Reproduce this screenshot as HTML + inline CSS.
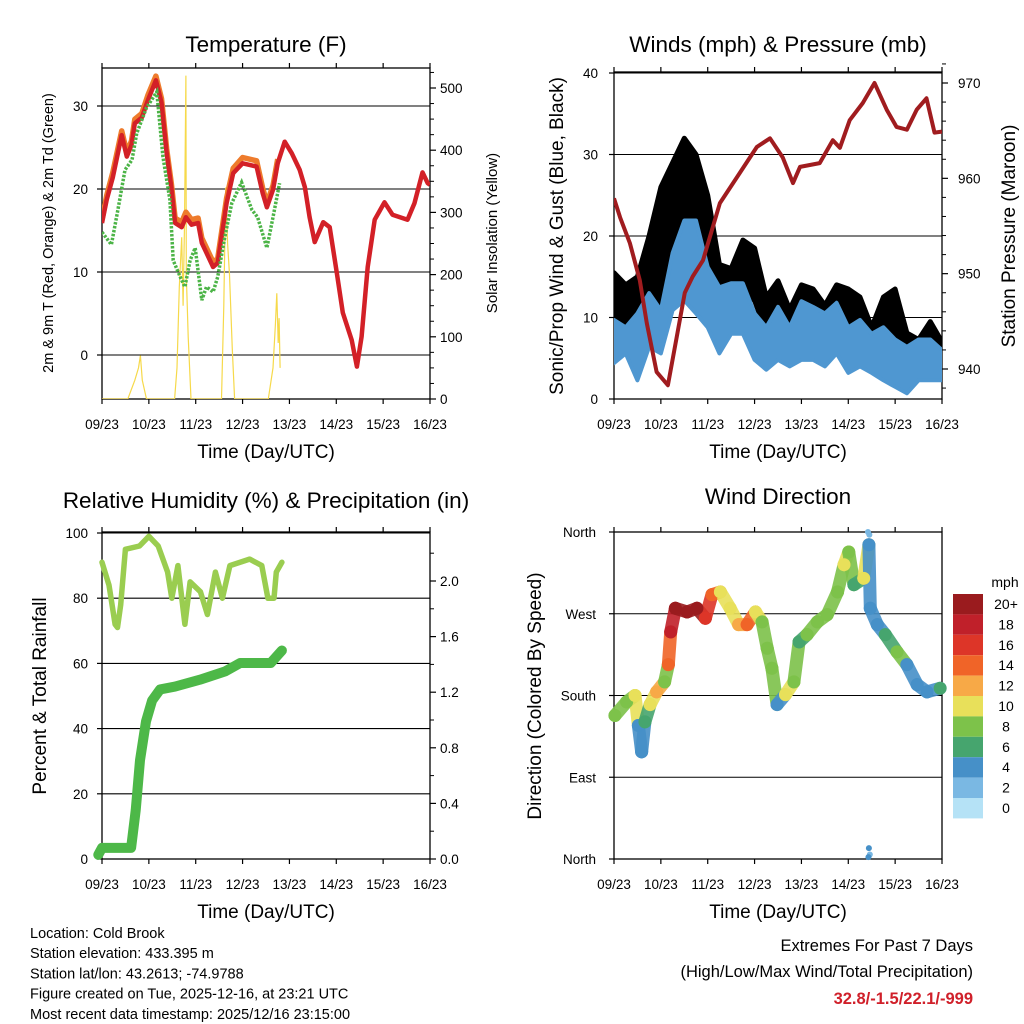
<!DOCTYPE html>
<html><head><meta charset="utf-8"><title>Cold Brook station meteogram</title>
<style>
html,body{margin:0;padding:0;background:#fff;}
svg{display:block;font-family:"Liberation Sans",Arial,sans-serif;}
</style></head>
<body>
<svg id="chart" width="1024" height="1024" viewBox="0 0 1024 1024" xmlns="http://www.w3.org/2000/svg"></svg>
<script>
// ---------- DATA ----------
const DAY_LABELS=["09/23","10/23","11/23","12/23","13/23","14/23","15/23","16/23"];
// Temperature panel
const RED_T=[0,0.1,0.23,0.42,0.53,0.63,0.7,0.85,0.98,1.15,1.27,1.38,1.48,1.56,1.7,1.79,1.91,2.05,2.13,2.37,2.47,2.66,2.8,3.0,3.3,3.43,3.52,3.65,3.75,3.9,4.05,4.22,4.33,4.43,4.54,4.72,4.86,5.01,5.14,5.33,5.44,5.54,5.67,5.82,6.03,6.2,6.52,6.67,6.84,6.95,7.0];
const RED_V=[15.9,18.7,21.4,26.5,23.9,25.3,27.9,28.6,30.7,33.1,30.4,24.3,20.2,15.9,15.4,16.6,15.7,15.9,13.5,10.6,11.1,18.3,21.9,23.1,22.7,19.5,17.8,19.9,23.1,25.7,24.3,22.3,20.2,16.6,13.6,16.0,15.4,9.9,5.1,1.8,-1.4,2.2,10.6,16.3,18.4,16.9,16.3,18.3,22.0,20.7,20.5];
const ORANGE_T=[0,0.1,0.23,0.42,0.53,0.63,0.7,0.85,0.98,1.15,1.27,1.38,1.48,1.56,1.7,1.79,1.91,2.05,2.13,2.37,2.47,2.66,2.8,3.0,3.3,3.43,3.52,3.65,3.75];
const ORANGE_V=[16.3,19.2,22.0,27.0,24.4,25.8,28.4,29.1,31.3,33.6,30.9,24.8,20.7,16.5,16.0,17.2,16.3,16.5,14.1,11.2,11.6,18.9,22.5,23.8,23.4,20.1,18.3,20.4,23.6];
const TD_T=[0,0.2,0.34,0.49,0.64,0.74,0.95,1.17,1.3,1.45,1.52,1.67,1.77,1.88,1.99,2.13,2.23,2.37,2.47,2.62,2.77,2.98,3.2,3.32,3.52,3.65,3.79];
const TD_V=[14.8,13.3,17.5,22.3,23.5,26.7,29.8,31.7,23.9,18.7,11.4,9.4,8.2,11.4,12.9,6.6,8.2,7.6,9.4,14.2,18.3,20.8,17.5,16.6,12.9,16.6,20.7];
const SOLAR_T=[0,0.55,0.7,0.78,0.82,0.86,0.95,1.55,1.6,1.65,1.7,1.73,1.76,1.79,1.8,1.84,1.9,2.55,2.6,2.64,2.68,2.72,2.78,2.83,3.55,3.65,3.7,3.73,3.76,3.78,3.8];
const SOLAR_V=[0,0,30,50,70,30,0,0,50,180,260,150,280,520,200,100,0,0,150,340,250,200,80,0,0,50,120,170,90,130,50];
// Winds panel
const PRES_T=[0,0.13,0.34,0.55,0.7,0.91,1.15,1.34,1.51,1.68,1.9,2.26,2.69,3.05,3.33,3.6,3.82,3.97,4.39,4.67,4.82,5.03,5.31,5.56,5.82,6.03,6.25,6.46,6.67,6.84,7.0];
const PRES_V=[957.9,955.9,953.2,949.3,944.8,939.7,938.3,943.4,948.0,949.7,951.4,957.4,960.6,963.3,964.2,962.2,959.5,961.2,961.6,964.0,963.2,966.1,967.9,970.0,967.2,965.4,965.1,967.2,968.4,964.8,964.9];
const WIND_T=[0,0.25,0.5,0.75,1,1.25,1.5,1.75,2,2.25,2.5,2.75,3,3.25,3.5,3.75,4,4.25,4.5,4.75,5,5.25,5.5,5.75,6,6.25,6.5,6.75,7];
const GUST_HI=[15.5,14,15,20,26,29,32,30,25,16.5,16,19.5,18.5,12.5,14.5,11,14,13.5,11.5,14,13.5,12.5,8.8,12.5,13.5,8.1,7.3,9.5,7];
const GUST_LO=[6,8.8,5.8,10.5,9.7,17.9,17,17,15.4,10.5,10.5,13,12.1,8.1,8.8,6,6.4,6.9,6.4,7.6,6.4,7,5.6,6.4,5.6,4.8,4.8,4.8,4.8];
const WIND_HI=[9.7,8.8,10.5,13,10.9,17.9,21.9,21.9,16.2,13.7,14.2,14.2,10.5,8.8,11.3,8.8,12,11.3,10.5,11.8,8.8,9.7,8,8.8,7.3,6.4,7.3,7.3,6];
const WIND_LO=[4.4,5.6,2.3,6.4,5.6,10.9,12.1,10.5,8.8,5.6,8,8,4.8,3.6,4.8,4,4.8,4.8,4,5.6,3.2,4,3.2,2.3,1.5,0.7,2.3,2.3,2.3];
// RH / precip panel
const RH_T=[0,0.15,0.28,0.33,0.4,0.5,0.8,1.0,1.2,1.4,1.49,1.62,1.77,1.88,2.1,2.25,2.42,2.57,2.73,3.15,3.41,3.54,3.67,3.72,3.84];
const RH_V=[91,84,72,71,78,95,96,99,96,88,80,90,72,85,82,75,88,80,90,92,90,80,80,88,91];
const PCP_T=[-0.08,0,0.62,0.72,0.81,0.94,1.07,1.24,1.56,2.09,2.63,2.95,3.6,3.84];
const PCP_V=[0.03,0.08,0.08,0.35,0.71,0.99,1.14,1.22,1.24,1.29,1.35,1.41,1.41,1.5];
// Wind direction panel
const DIR_T=[0.02,0.27,0.45,0.52,0.59,0.66,0.77,0.91,1.08,1.16,1.21,1.31,1.56,1.77,1.95,2.09,2.27,2.48,2.66,2.84,3.02,3.16,3.27,3.37,3.48,3.66,3.84,3.95,4.12,4.34,4.55,4.77,4.91,5.01,5.12,5.33,5.44,5.47,5.62,5.79,6.04,6.25,6.47,6.68,6.96];
const DIR_V=[158,173,180,147,118,151,170,184,195,214,250,276,272,276,265,291,294,276,258,258,272,261,232,210,170,181,195,239,247,261,269,294,324,338,302,309,346,276,258,247,228,214,192,184,188];
const DIR_SPD=[7,7,9,4,3,5,10,12,7,13,17,20,21,19,16,14,10,9,12,13,10,7,8,7,4,10,7,5,7,8,8,7,10,7,6,10,4,4,4,6,8,4,3,4,6];
const OUT_T=[5.42,5.45,5.44,5.46,5.43];
const OUT_V=[360,357,12,5,2];
const OUT_SPD=[2,2,4,2,3];
const CB_LABELS=["20+","18","16","14","12","10","8","6","4","2","0"];
const CB_COLORS=["#9a1b1e","#c0202a","#dd3528","#f06428","#f7a947","#e8e05a","#7dc24a","#46a56e","#4690c8","#7ab8e3","#b5e2f6"];

// ---------- HELPERS ----------
const NS="http://www.w3.org/2000/svg";
const svg=document.getElementById('chart');
function mk(tag,attrs,parent){const e=document.createElementNS(NS,tag);for(const k in attrs)e.setAttribute(k,attrs[k]);(parent||svg).appendChild(e);return e;}
function txt(s,x,y,size,anchor,parent,extra){const e=mk('text',Object.assign({x:x,y:y,'font-size':size,'text-anchor':anchor||'middle',fill:'#000'},extra||{}),parent);e.textContent=s;return e;}
function makeX(x0){return t=>x0+t*46.857;}
function lin(v0,y0,v1,y1){return v=>y0+(v-v0)*(y1-y0)/(v1-v0);}
function pathD(T,V,fx,fy){return T.map((t,i)=>(i?'L':'M')+fx(t).toFixed(1)+','+fy(V[i]).toFixed(1)).join(' ');}
function spdColor(s){let i=Math.min(10,Math.max(0,Math.round(s/2)));return CB_COLORS[10-i];}

function frame(x0,y0,x1,y1,name){
  const g=mk('g',{});
  
  
  mk('rect',{x:x0,y:y0,width:x1-x0,height:y1-y0,fill:'none',stroke:'#000','stroke-width':1.3},g);
  const fx=makeX(x0);
  for(let i=0;i<DAY_LABELS.length;i++){
    const x=fx(i);
    mk('line',{x1:x,y1:y0,x2:x,y2:y0-5,stroke:'#000','stroke-width':1.2},g);
    mk('line',{x1:x,y1:y1,x2:x,y2:y1+5,stroke:'#000','stroke-width':1.2},g);
    const l=txt(DAY_LABELS[i],x,y1+30,13.5,'middle',g);
    
    
  }
  const xt=txt('Time (Day/UTC)',(x0+x1)/2,y1+59,19,'middle',g);
  
  
  return g;
}
function leftTicks(g,vals,labels,fy,x0,x1,grid,labelX){
  vals.forEach((v,i)=>{const y=fy(v);
    if(grid) mk('line',{x1:x0,y1:y,x2:x1,y2:y,stroke:'#000','stroke-width':1.1},g);
    mk('line',{x1:x0-5,y1:y,x2:x0,y2:y,stroke:'#000','stroke-width':1.2},g);
    const l=txt(labels[i],labelX,y+5,13.5,'end',g);
    
    
  });
}
function rightTicks(g,vals,labels,fy,x1,labelX,minor){
  vals.forEach((v,i)=>{const y=fy(v);
    mk('line',{x1:x1,y1:y,x2:x1+6,y2:y,stroke:'#000','stroke-width':1.2},g);
    const l=txt(labels[i],labelX,y+5,13.5,'start',g);
    
    
  });
  (minor||[]).forEach(v=>{const y=fy(v);mk('line',{x1:x1,y1:y,x2:x1+4,y2:y,stroke:'#000','stroke-width':1},g);});
}
function rotTitle(s,x,y,size,name){const e=txt(s,x,y,size,'middle',svg,{transform:`rotate(-90 ${x} ${y})`});
  
  }
function title(s,x,y,name){const e=txt(s,x,y,22.5,'middle');
  
  }

// ---------- PANEL 1: TEMPERATURE ----------
(function(){
  const x0=102,x1=430,y0=68,y1=399;const fx=makeX(x0);
  const fy=lin(0,355,30,106);const fs=lin(0,399,500,88);
  title('Temperature (F)',266,52,'temperature-title');
  const g=frame(x0,y0,x1,y1,'temperature');
  leftTicks(g,[0,10,20,30],['0','10','20','30'],fy,x0,x1,true,88);
  const minor=[];for(let v=25;v<=525;v+=25)if(v%100)minor.push(v);
  rightTicks(g,[0,100,200,300,400,500],['0','100','200','300','400','500'],fs,x1,440,minor);
  rotTitle('2m & 9m T (Red, Orange) & 2m Td (Green)',53,233,14.5,'temperature-y-axis-title');
  rotTitle('Solar Insolation (Yellow)',497,233,15,'solar-y-axis-title');
  const clip=mk('clipPath',{id:'c1'});mk('rect',{x:x0,y:y0,width:x1-x0,height:y1-y0},clip);
  const pg=mk('g',{'clip-path':'url(#c1)'});
  const s=mk('path',{d:pathD(SOLAR_T,SOLAR_V,fx,fs),fill:'none',stroke:'#f6d94a','stroke-width':1.2},pg);
  
  
  const o=mk('path',{d:pathD(ORANGE_T,ORANGE_V,fx,fy),fill:'none',stroke:'#ee7b2c','stroke-width':5.5,'stroke-linejoin':'round'},pg);
  
  
  const r=mk('path',{d:pathD(RED_T,RED_V,fx,fy),fill:'none',stroke:'#d32027','stroke-width':4.5,'stroke-linejoin':'round'},pg);
  
  
  const d=mk('path',{d:pathD(TD_T,TD_V,fx,fy),fill:'none',stroke:'#4cb447','stroke-width':3.5,'stroke-dasharray':'2.5 1.5'},pg);
  
  
})();

// ---------- PANEL 2: WINDS & PRESSURE ----------
(function(){
  const x0=614,x1=942,y0=72,y1=399;const fx=makeX(x0);
  const fy=lin(0,399,40,73);const fp=lin(940,369,970,83);
  title('Winds (mph) & Pressure (mb)',778,52,'winds-title');
  const g=frame(x0,y0,x1,y1,'winds');
  leftTicks(g,[0,10,20,30,40],['0','10','20','30','40'],fy,x0,x1,true,598);
  const minor=[];for(let v=938;v<=972;v+=2)if(v%10)minor.push(v);
  rightTicks(g,[940,950,960,970],['940','950','960','970'],fp,x1,958,minor);
  rotTitle('Sonic/Prop Wind & Gust (Blue, Black)',563,236,19,'wind-y-axis-title');
  rotTitle('Station Pressure (Maroon)',1015,236,19,'pressure-y-axis-title');
  const clip=mk('clipPath',{id:'c2'});mk('rect',{x:x0,y:y0,width:x1-x0,height:y1-y0},clip);
  const pg=mk('g',{'clip-path':'url(#c2)'});
  function band(HI,LO,color,name,w){
    const d=WIND_T.map((t,i)=>(i?'L':'M')+fx(t).toFixed(1)+','+fy(HI[i]).toFixed(1)).join(' ')+' '+
      WIND_T.slice().reverse().map((t,j)=>{const i=WIND_T.length-1-j;return 'L'+fx(t).toFixed(1)+','+fy(LO[i]).toFixed(1);}).join(' ')+'Z';
    const p=mk('path',{d:d,fill:color,stroke:color,'stroke-width':w,'stroke-linejoin':'round'},pg);
    
    
  }
  band(GUST_HI,GUST_LO,'#000','gust-scatter',5);
  band(WIND_HI,WIND_LO,'#4f97d1','wind-speed-scatter',4);
  const p=mk('path',{d:pathD(PRES_T,PRES_V,fx,fp),fill:'none',stroke:'#a01c1f','stroke-width':4,'stroke-linejoin':'round'},pg);
  
  
})();

// ---------- PANEL 3: RH & PRECIP ----------
(function(){
  const x0=102,x1=430,y0=532,y1=859;const fx=makeX(x0);
  const fy=lin(0,859,100,533);const fr=lin(0,859,2,581);
  title('Relative Humidity (%) & Precipitation (in)',266,508,'humidity-title');
  const g=frame(x0,y0,x1,y1,'humidity');
  leftTicks(g,[0,20,40,60,80,100],['0','20','40','60','80','100'],fy,x0,x1,true,88);
  rightTicks(g,[0,0.4,0.8,1.2,1.6,2.0],['0.0','0.4','0.8','1.2','1.6','2.0'],fr,x1,440,[0.2,0.6,1.0,1.4,1.8,2.2]);
  rotTitle('Percent & Total Rainfall',46,696,19,'humidity-y-axis-title');
  const pg=mk('g',{});
  const pc=mk('path',{d:pathD(PCP_T,PCP_V,fx,fr),fill:'none',stroke:'#4db848','stroke-width':10,'stroke-linejoin':'round','stroke-linecap':'round'},pg);
  
  
  const rh=mk('path',{d:pathD(RH_T,RH_V,fx,fy),fill:'none',stroke:'#9acd50','stroke-width':5.5,'stroke-linejoin':'round','stroke-linecap':'round'},pg);
  
  
})();

// ---------- PANEL 4: WIND DIRECTION ----------
(function(){
  const x0=614,x1=942,y0=532,y1=859;const fx=makeX(x0);
  const fd=lin(0,859,360,532);
  title('Wind Direction',778,504,'wind-direction-title');
  const g=frame(x0,y0,x1,y1,'wind-direction');
  leftTicks(g,[0,90,180,270,360],['North','East','South','West','North'],fd,x0,x1,true,596);
  rotTitle('Direction (Colored By Speed)',541,696,19,'direction-y-axis-title');
  const pg=mk('g',{});
  for(let i=0;i<DIR_T.length-1;i++){
    if(DIR_T[i+1]-DIR_T[i]>0.3) continue;
    const s=mk('line',{x1:fx(DIR_T[i]),y1:fd(DIR_V[i]),x2:fx(DIR_T[i+1]),y2:fd(DIR_V[i+1]),stroke:spdColor(DIR_SPD[i]),'stroke-width':13,'stroke-linecap':'round','opacity':0.9},pg);
    
    
  }
  for(let i=0;i<DIR_T.length;i++){
    const c=mk('circle',{cx:fx(DIR_T[i]),cy:fd(DIR_V[i]),r:6.5,fill:spdColor(DIR_SPD[i])},pg);
    
    
  }
  for(let i=0;i<OUT_T.length;i++){
    const c=mk('circle',{cx:fx(OUT_T[i]),cy:fd(OUT_V[i]),r:3,fill:spdColor(OUT_SPD[i])},pg);
    
    
  }
  const cb=mk('g',{});
  
  
  txt('mph',1005,587,14,'middle',cb);
  CB_COLORS.forEach((c,i)=>{
    const r=mk('rect',{x:953,y:594+i*20.4,width:30,height:20.4,fill:c},cb);
    
    
    const l=txt(CB_LABELS[i],1006,609+i*20.4,14,'middle',cb);
    
    
  });
})();

// ---------- FOOTER ----------
(function(){
  const g=mk('g',{});
  
  
  ['Location: Cold Brook','Station elevation: 433.395 m','Station lat/lon: 43.2613; -74.9788','Figure created on Tue, 2025-12-16, at 23:21 UTC','Most recent data timestamp: 2025/12/16 23:15:00']
    .forEach((s,i)=>txt(s,30,938+i*20.2,14.5,'start',g));
  const g2=mk('g',{});
  
  
  txt('Extremes For Past 7 Days',973,951,16.5,'end',g2);
  txt('(High/Low/Max Wind/Total Precipitation)',973,977,16.5,'end',g2);
  txt('32.8/-1.5/22.1/-999',973,1004,16.5,'end',g2,{fill:'#d0202a','font-weight':'bold'});
})();
</script>
</body></html>
